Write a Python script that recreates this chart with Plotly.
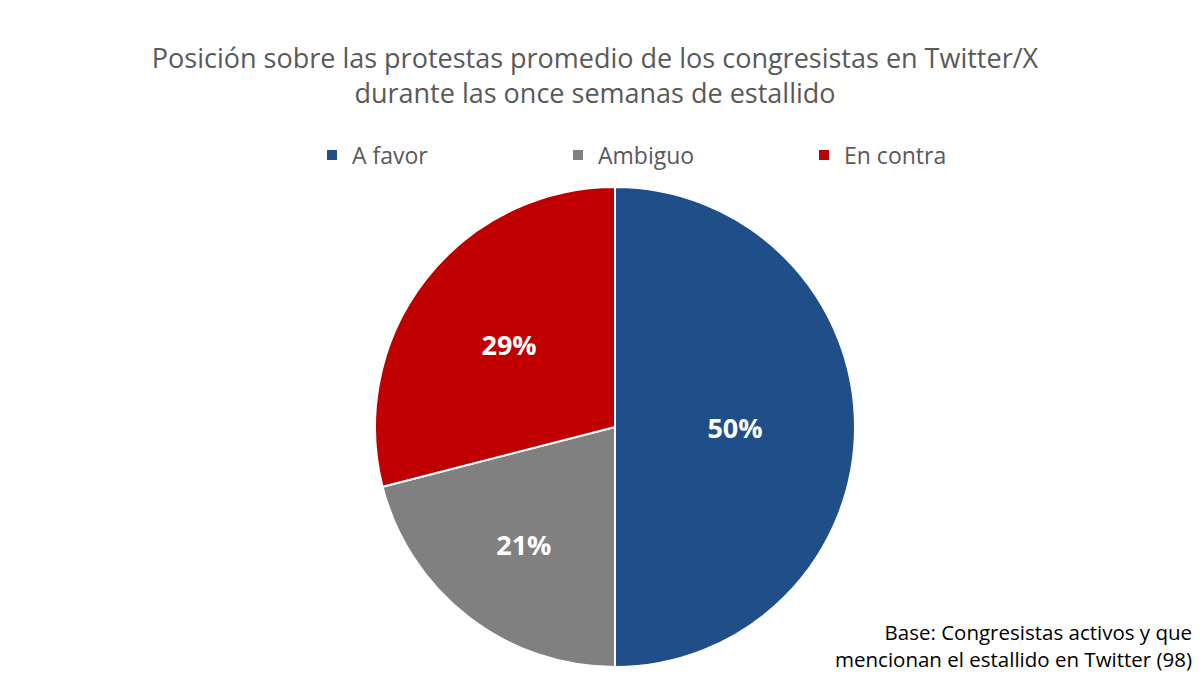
import plotly.graph_objects as go

labels = ["A favor", "Ambiguo", "En contra"]
values = [50, 21, 29]
colors = ["#1F4E89", "#808080", "#C00000"]

W, H = 1203, 693
cx, cy, r = 615, 427, 240

fig = go.Figure(go.Pie(
    labels=labels, values=values, sort=False, direction="clockwise", rotation=0,
    marker=dict(colors=colors, line=dict(color="white", width=2)),
    texttemplate="<b>%{percent:.0%}</b>", textposition="inside",
    insidetextfont=dict(color="white", size=27, family="Open Sans"),
    domain=dict(x=[(cx - r) / W, (cx + r) / W], y=[1 - (cy + r) / H, 1 - (cy - r) / H]),
    hoverinfo="label+percent",
))

fig.update_layout(
    width=W, height=H,
    margin=dict(l=0, r=0, t=0, b=0),
    paper_bgcolor="white",
    font=dict(family="Open Sans", color="#595959"),
    title=dict(
        text="Posición sobre las protestas promedio de los congresistas en Twitter/X<br>durante las once semanas de estallido",
        x=595 / W, xanchor="center", y=1 - 68 / H, yanchor="middle",
        font=dict(size=27, color="#595959", family="Open Sans"),
    ),
    showlegend=True,
    legend=dict(orientation="h", x=312 / W, xanchor="left", y=1 - 155 / H, yanchor="middle",
                entrywidth=201, entrywidthmode="pixels",
                font=dict(size=23, color="#595959", family="Open Sans"), itemsizing="constant"),
    annotations=[dict(
        text="Base: Congresistas activos y que<br>mencionan el estallido en Twitter (98)",
        x=1194 / W, y=1 - 645 / H, xref="paper", yref="paper", xanchor="right", yanchor="middle",
        align="right", showarrow=False, font=dict(size=20.5, color="black", family="Open Sans"),
    )],
)

fig.write_html("out.html")
